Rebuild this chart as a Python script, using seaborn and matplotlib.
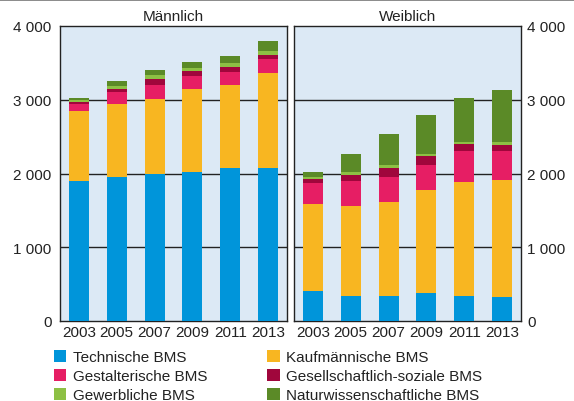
import numpy as np
import pandas as pd
import matplotlib
matplotlib.use("Agg")
import matplotlib.pyplot as plt
import seaborn as sns
from matplotlib.patches import Patch
from matplotlib.ticker import FuncFormatter

# Data
years = ["2003", "2005", "2007", "2009", "2011", "2013"]
categories = ["Technische BMS", "Kaufmännische BMS", "Gestalterische BMS",
              "Gesellschaftlich-soziale BMS", "Gewerbliche BMS", "Naturwissenschaftliche BMS"]

m_tech = [1905, 1946, 1991, 2027, 2077, 2068]
m_kauf = [937, 1000, 1018, 1113, 1118, 1289]
m_gest = [104, 158, 186, 177, 185, 200]
m_ges = [27, 45, 81, 77, 68, 49]
m_gew = [18, 41, 54, 31, 45, 50]
m_nat = [32, 59, 68, 91, 100, 145]

w_tech = [407, 335, 335, 385, 335, 321]
w_kauf = [1186, 1222, 1285, 1398, 1552, 1589]
w_gest = [280, 339, 335, 339, 416, 393]
w_ges = [50, 77, 113, 122, 95, 82]
w_gew = [32, 41, 45, 27, 32, 36]
w_nat = [59, 257, 416, 525, 597, 706]

colors = ["#0095DA", "#F8B621", "#E61E64", "#A0063C", "#8DC044", "#5B8A27"]
bg = "#DCE9F5"

panels = {
    "Männlich": [m_tech, m_kauf, m_gest, m_ges, m_gew, m_nat],
    "Weiblich": [w_tech, w_kauf, w_gest, w_ges, w_gew, w_nat],
}

sns.set_style("white")
plt.rcParams["font.family"] = ["Liberation Sans", "DejaVu Sans"]

fig = plt.figure(figsize=(5.74, 4.02), dpi=100)
ax_w = 227 / 574
ax_h = 295 / 402
bottom = 1 - 322 / 402
axes = [fig.add_axes([60 / 574, bottom, ax_w, ax_h]),
        fig.add_axes([294 / 574, bottom, ax_w, ax_h])]

fmt = FuncFormatter(lambda v, p: f"{int(v):,}".replace(",", " "))

for ax, (title, series) in zip(axes, panels.items()):
    df = pd.DataFrame(np.array(series).T, columns=categories)
    df["Jahr"] = years
    cum = df[categories].cumsum(axis=1)
    ax.set_facecolor(bg)
    # draw from top of stack downwards so lower segments cover the upper ones
    for cat, col in reversed(list(zip(categories, colors))):
        sns.barplot(x=df["Jahr"], y=cum[cat], color=col, width=0.53,
                    saturation=1, linewidth=0, ax=ax, zorder=3)
    for v in [1000, 2000, 3000]:
        ax.axhline(v, color="#222222", lw=1.0, zorder=1)
    ax.set_ylim(0, 4000)
    ax.set_xlim(-0.5, 5.5)
    ax.set_yticks([0, 1000, 2000, 3000, 4000])
    ax.yaxis.set_major_formatter(fmt)
    ax.set_xlabel("")
    ax.set_ylabel("")
    ax.set_title(title, fontsize=11, pad=4, color="#222222")
    ax.tick_params(axis="both", length=0, labelsize=11, colors="#222222", pad=3)
    for s in ax.spines.values():
        s.set_color("#222222")
        s.set_linewidth(1.0)
        s.set_visible(True)

axes[1].yaxis.tick_right()
axes[1].tick_params(axis="y", pad=4.5)
axes[0].tick_params(axis="y", pad=6)

order = [0, 2, 4, 1, 3, 5]
handles = [Patch(facecolor=colors[i], edgecolor="none", label=categories[i]) for i in order]
fig.legend(handles=handles, loc="upper left", bbox_to_anchor=(48 / 574, 1 - 345 / 402),
           ncol=2, frameon=False, fontsize=11, handlelength=0.8, handleheight=0.8,
           handletextpad=0.45, columnspacing=3.9, labelspacing=0.32, borderaxespad=0,
           labelcolor="#222222")

fig.add_artist(plt.Line2D([0, 1], [0.998, 0.998], color="#777777", lw=1.2))

fig.savefig("out.png", dpi=100)
